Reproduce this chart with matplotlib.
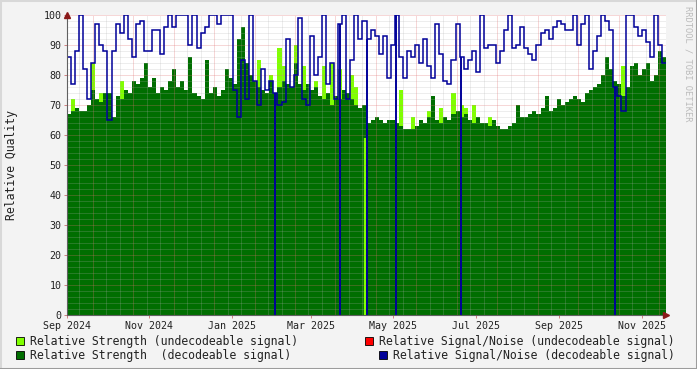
import datetime as dt
import numpy as np
import matplotlib
matplotlib.use('Agg')
import matplotlib.pyplot as plt
import matplotlib.dates as mdates
from matplotlib.patches import Rectangle
from matplotlib.lines import Line2D

# 3-day samples starting 1 Sep 2024
step_days = 3
start_date = dt.datetime(2024, 9, 1)

# relative strength, decodeable signal
strength = [67, 68, 69, 68, 68, 70, 75, 72, 71, 74,
            74, 66, 73, 72, 75, 74, 78, 77, 79, 84,
            76, 79, 74, 76, 75, 78, 82, 76, 78, 75,
            86, 74, 73, 72, 85, 74, 76, 73, 75, 82,
            79, 77, 92, 96, 84, 80, 78, 76, 75, 74,
            78, 74, 76, 78, 77, 76, 84, 77, 75, 77,
            75, 76, 73, 72, 74, 70, 73, 72, 75, 74,
            72, 70, 69, 70, 64, 65, 66, 65, 64, 65,
            65, 64, 63, 62, 62, 62, 63, 65, 64, 66, 73,
            65, 64, 66, 65, 67, 68, 66, 67, 65, 64,
            66, 64, 64, 63, 65, 63, 62, 62, 63, 64,
            70, 66, 66, 67, 68, 67, 69, 73, 68, 69, 72,
            70, 71, 72, 73, 72, 71, 74, 75, 76, 77,
            80, 86, 82, 78, 77, 73, 76, 83, 84, 80,
            82, 84, 78, 80, 88, 86]

# relative strength, undecodeable signal (0 = nothing seen above the decodeable one)
strength_undec = [0, 72, 0, 0, 0, 0, 84, 0, 74, 0,
                  0, 0, 0, 78, 0, 0, 0, 0, 0, 0,
                  0, 0, 0, 0, 0, 0, 0, 0, 0, 0,
                  0, 0, 0, 0, 0, 0, 0, 0, 0, 0,
                  0, 0, 0, 0, 0, 0, 0, 85, 0, 0,
                  80, 0, 89, 83, 0, 0, 90, 0, 83, 0,
                  0, 78, 0, 83, 0, 84, 0, 82, 0, 0,
                  80, 76, 0, 0, 0, 0, 0, 0, 0, 0,
                  0, 0, 75, 0, 0, 66, 0, 0, 0, 68, 0,
                  0, 69, 0, 0, 74, 0, 70, 69, 0, 70,
                  0, 0, 0, 66, 0, 0, 0, 0, 0, 0,
                  0, 0, 0, 0, 0, 0, 0, 0, 0, 0, 0,
                  0, 0, 0, 0, 0, 0, 0, 0, 0, 0,
                  0, 0, 0, 0, 0, 83, 0, 0, 0, 0,
                  0, 0, 0, 0, 0, 0]

# relative signal/noise, decodeable signal
snr = [86, 77, 88, 100, 82, 72, 84, 97, 90, 88,
       65, 88, 97, 94, 100, 92, 86, 97, 98, 88,
       88, 95, 95, 87, 96, 100, 96, 100, 100, 100,
       90, 100, 89, 94, 96, 100, 100, 97, 100, 100,
       100, 75, 66, 85, 72, 100, 78, 70, 82, 75,
       78, 74, 70, 71, 92, 76, 80, 99, 72, 70,
       93, 80, 86, 100, 77, 84, 72, 97, 100, 72,
       85, 100, 92, 98, 92, 95, 93, 87, 93, 79,
       90, 100, 86, 79, 88, 86, 90, 84, 92, 83,
       79, 97, 87, 78, 77, 85, 97, 86, 82, 85,
       88, 81, 100, 89, 90, 90, 84, 88, 95, 100,
       89, 90, 96, 89, 87, 85, 90, 94, 95, 92,
       96, 98, 97, 95, 95, 100, 90, 97, 100, 82,
       88, 93, 100, 98, 95, 76, 73, 68, 100, 100,
       96, 93, 95, 91, 86, 100, 90, 84]

# short outages where s/n fell to zero
snr_drop_dates = ['2025-02-02', '2025-03-22', '2025-04-11', '2025-05-03', '2025-06-20', '2025-10-12']
# day where only an undecodeable signal was seen
undec_only_date = '2025-04-10'
undec_only_value = 59

label_months = ['2024-09-01', '2024-11-01', '2025-01-01', '2025-03-01',
                '2025-05-01', '2025-07-01', '2025-09-01', '2025-11-01']

c_light = '#80FF00'
c_dark = '#006E00'
c_red = '#FF0000'
c_blue = '#000099'
mono = 'DejaVu Sans Mono'

fig = plt.figure(figsize=(6.97, 3.69), dpi=100, facecolor='#F3F3F3')
ax = fig.add_axes([67 / 697, 54 / 369, 599 / 697, 300 / 369])
ax.set_facecolor('white')

t0 = mdates.date2num(start_date)
edges = t0 + step_days * np.arange(len(strength) + 1)
t_end = t0 + 444

ax.stairs(strength_undec, edges, fill=True, color=c_light, lw=0, zorder=1)
ax.stairs(strength, edges, fill=True, color=c_dark, lw=0, zorder=1.1)

d = mdates.datestr2num(undec_only_date)
ax.vlines(d, 0, undec_only_value, color=c_light, lw=1.6, zorder=1.2)

ax.stairs(snr, edges, baseline=None, color=c_blue, lw=1.1, zorder=3)
for s in snr_drop_dates:
    d = mdates.datestr2num(s)
    i = min(int((d - t0) // step_days), len(snr) - 1)
    ax.vlines(d, 0, snr[i], color=c_blue, lw=1.4, zorder=3)

# rrdtool style grid on top of the areas
for v in np.arange(0, 101, 2):
    major = v % 10 == 0
    ax.axhline(v, color='#E07070' if major else '#B0B0B0', alpha=0.55 if major else 0.45,
               lw=0.72, ls=(0, (1, 1)), zorder=2)
for k, x in enumerate(np.arange(t0 + 9, t_end, 10)):
    major = (k % 3) == 1
    ax.axvline(x, color='#E07070' if major else '#B0B0B0', alpha=0.55 if major else 0.45,
               lw=0.72, ls=(0, (1, 1)), zorder=2)

ax.set_xlim(t0, t_end)
ax.set_ylim(0, 100)
ax.set_xticks(mdates.datestr2num(label_months))
ax.xaxis.set_major_formatter(mdates.DateFormatter('%b %Y'))
ax.set_yticks(np.arange(0, 101, 10))
ax.tick_params(length=2, width=0.7, color='#D08080', labelsize=7.2, pad=2, labelcolor='#222222')
for lab in ax.get_xticklabels() + ax.get_yticklabels():
    lab.set_family(mono)

for side in ['top', 'right']:
    ax.spines[side].set_visible(False)
for side in ['left', 'bottom']:
    ax.spines[side].set_color('#606060')
    ax.spines[side].set_linewidth(0.8)
    ax.spines[side].set_zorder(4)

# axis arrows
ax.plot([0], [1.0], marker='^', ms=4, color='#8B1A1A', transform=ax.transAxes, clip_on=False, zorder=5)
ax.plot([1.0], [0], marker='>', ms=4, color='#8B1A1A', transform=ax.transAxes, clip_on=False, zorder=5)

fig.text(12 / 697, 1 - 165 / 369, 'Relative Quality', rotation=90, ha='center', va='center',
         family=mono, fontsize=8.3, color='#222222')
fig.text(688 / 697, 1 - 6 / 369, 'RRDTOOL / TOBI OETIKER', rotation=270, ha='center', va='top',
         family=mono, fontsize=6.3, color='#BBBBBB')

# legend
legend_items = [
    (16, 341, c_light, 'Relative Strength (undecodeable signal)'),
    (365, 341, c_red, 'Relative Signal/Noise (undecodeable signal)'),
    (16, 355, c_dark, 'Relative Strength  (decodeable signal)'),
    (379, 355, c_blue, 'Relative Signal/Noise (decodeable signal)'),
]
for x, y, col, txt in legend_items:
    fig.patches.append(Rectangle((x / 697, 1 - (y + 4) / 369), 8 / 697, 8 / 369,
                                 transform=fig.transFigure, facecolor=col,
                                 edgecolor='black', lw=0.6))
    fig.text((x + 14) / 697, 1 - y / 369, txt, ha='left', va='center',
             family=mono, fontsize=8.3, color='#222222')

# canvas frame: light top/left, dark bottom/right
fig.lines.append(Line2D([0, 0, 1], [0, 1, 1], transform=fig.transFigure, color='#D8D8D8', lw=2.2))
fig.lines.append(Line2D([0, 1, 1], [0, 0, 1], transform=fig.transFigure, color='#9C9C9C', lw=2.2))

fig.savefig('out.png', dpi=100, facecolor=fig.get_facecolor())
